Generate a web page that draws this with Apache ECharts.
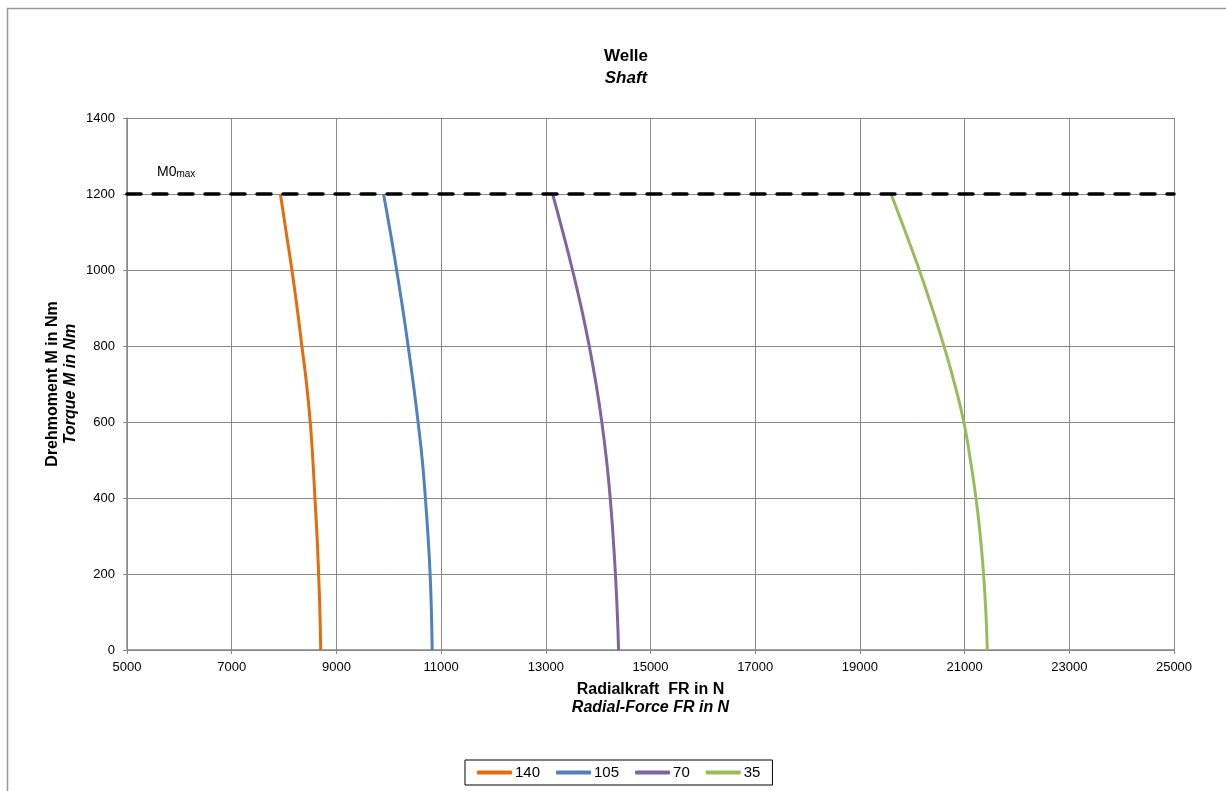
<!DOCTYPE html>
<html>
<head>
<meta charset="utf-8">
<script src="https://cdn.jsdelivr.net/npm/echarts@6/dist/echarts.min.js"></script>
<style>
html,body{margin:0;padding:0;background:#fff;}
#chart{width:1226px;height:791px;}
</style>
</head>
<body>
<div id="chart"></div>
<script>
// Torque levels (Nm), shared by all series
var torque = [0, 100, 200, 300, 400, 500, 600, 700, 800, 900, 1000, 1100, 1200];
// Radial force (N) per series
var force140 = [8700, 8685, 8660, 8630, 8590, 8550, 8500, 8430, 8340, 8250, 8150, 8040, 7930];
var force105 = [10830, 10815, 10790, 10750, 10700, 10640, 10560, 10470, 10370, 10265, 10150, 10030, 9900];
var force70  = [14390, 14365, 14330, 14285, 14230, 14160, 14070, 13960, 13830, 13680, 13510, 13325, 13130];
var force35  = [21434, 21406, 21362, 21300, 21217, 21110, 20985, 20810, 20605, 20378, 20135, 19870, 19594];
var seriesNames = ['140', '105', '70', '35'];
var m0max = 1200;
var xRange = [5000, 25000];
var xTicks = ['5000','7000','9000','11000','13000','15000','17000','19000','21000','23000','25000'];
var yTicks = ['0','200','400','600','800','1000','1200','1400'];

function pairs(xs) { return xs.map(function (x, i) { return [x, torque[i]]; }); }

var colors = ['#E46C0A', '#4F81BD', '#8064A2', '#9BBB59'];
var forces = [force140, force105, force70, force35];
var font = '"Liberation Sans", Arial, sans-serif';

var series = forces.map(function (f, i) {
  return {
    name: seriesNames[i], type: 'line', data: pairs(f), smooth: 0.5,
    showSymbol: false, symbol: 'none',
    lineStyle: { color: colors[i], width: 3 }, itemStyle: { color: colors[i] }, z: 3
  };
});
series.unshift({
  name: 'M0max', type: 'line', data: [[xRange[0], m0max], [xRange[1], m0max]],
  showSymbol: false, symbol: 'none', silent: true,
  lineStyle: { color: '#000', width: 3.5, type: [14, 12], cap: 'round' }, z: 4
});

var chart = echarts.init(document.getElementById('chart'), null, { renderer: 'canvas' });
chart.setOption({
  animation: false,
  backgroundColor: '#fff',
  color: colors,
  title: {
    text: '{a|Welle}\n{b|Shaft}',
    left: 621, top: 40, textAlign: 'center',
    textStyle: {
      rich: {
        a: { fontFamily: font, fontWeight: 'bold', fontSize: 17, lineHeight: 22, color: '#000' },
        b: { fontFamily: font, fontWeight: 'bold', fontStyle: 'italic', fontSize: 17, lineHeight: 22, color: '#000' }
      }
    }
  },
  grid: { left: 127, right: 52, top: 118, bottom: 141, containLabel: false },
  xAxis: {
    type: 'value', min: xRange[0], max: xRange[1], interval: 2000,
    name: '{a|Radialkraft  FR in N}\n{b|Radial-Force FR in N}',
    nameLocation: 'middle', nameGap: 31, nameMoveOverlap: false,
    nameTextStyle: {
      rich: {
        a: { fontFamily: font, fontWeight: 'bold', fontSize: 16, lineHeight: 18, color: '#000' },
        b: { fontFamily: font, fontWeight: 'bold', fontStyle: 'italic', fontSize: 16, lineHeight: 18, color: '#000' }
      }
    },
    axisLine: { show: true, onZero: false, lineStyle: { color: '#888', width: 1.5 } },
    axisTick: { show: true, length: 4, lineStyle: { color: '#888' } },
    axisLabel: { fontFamily: font, fontSize: 13, color: '#000', margin: 11,
      formatter: function (v) { return xTicks[Math.round((v - xRange[0]) / 2000)]; } },
    splitLine: { show: true, lineStyle: { color: '#888', width: 1 } }
  },
  yAxis: {
    type: 'value', min: 0, max: 1400, interval: 200,
    name: '{a|Drehmoment M in Nm}\n{b|Torque M in Nm}',
    nameLocation: 'middle', nameGap: 47, nameRotate: 90, nameMoveOverlap: false,
    nameTextStyle: {
      rich: {
        a: { fontFamily: font, fontWeight: 'bold', fontSize: 16, lineHeight: 18, color: '#000' },
        b: { fontFamily: font, fontWeight: 'bold', fontStyle: 'italic', fontSize: 16, lineHeight: 18, color: '#000' }
      }
    },
    axisLine: { show: true, lineStyle: { color: '#888', width: 1.5 } },
    axisTick: { show: true, length: 4, lineStyle: { color: '#888' } },
    axisLabel: { fontFamily: font, fontSize: 13, color: '#000', margin: 12,
      formatter: function (v) { return yTicks[Math.round(v / 200)]; } },
    splitLine: { show: true, lineStyle: { color: '#888', width: 1 } }
  },
  legend: {
    data: seriesNames,
    left: 465, top: 760,
    orient: 'horizontal',
    padding: [5, 12, 5, 12],
    itemGap: 16,
    itemWidth: 35, itemHeight: 4,
    icon: 'roundRect',
    borderColor: '#000', borderWidth: 1,
    textStyle: { fontFamily: font, fontSize: 15, color: '#000', padding: [0, 0, 0, -2] }
  },
  graphic: [
    { type: 'rect', left: 5, top: 6, shape: { width: 1240, height: 800 }, silent: true,
      style: { fill: 'none', stroke: '#999', lineWidth: 1.5 }, z: -10 },
    { type: 'text', left: 157, top: 165, silent: true,
      style: { text: '{m|M0}{s|max}', rich: {
        m: { fontFamily: font, fontSize: 14, color: '#000', verticalAlign: 'bottom' },
        s: { fontFamily: font, fontSize: 10, color: '#000', padding: [6, 0, 0, 0], verticalAlign: 'bottom' }
      } } }
  ],
  series: series
});
</script>
</body>
</html>
